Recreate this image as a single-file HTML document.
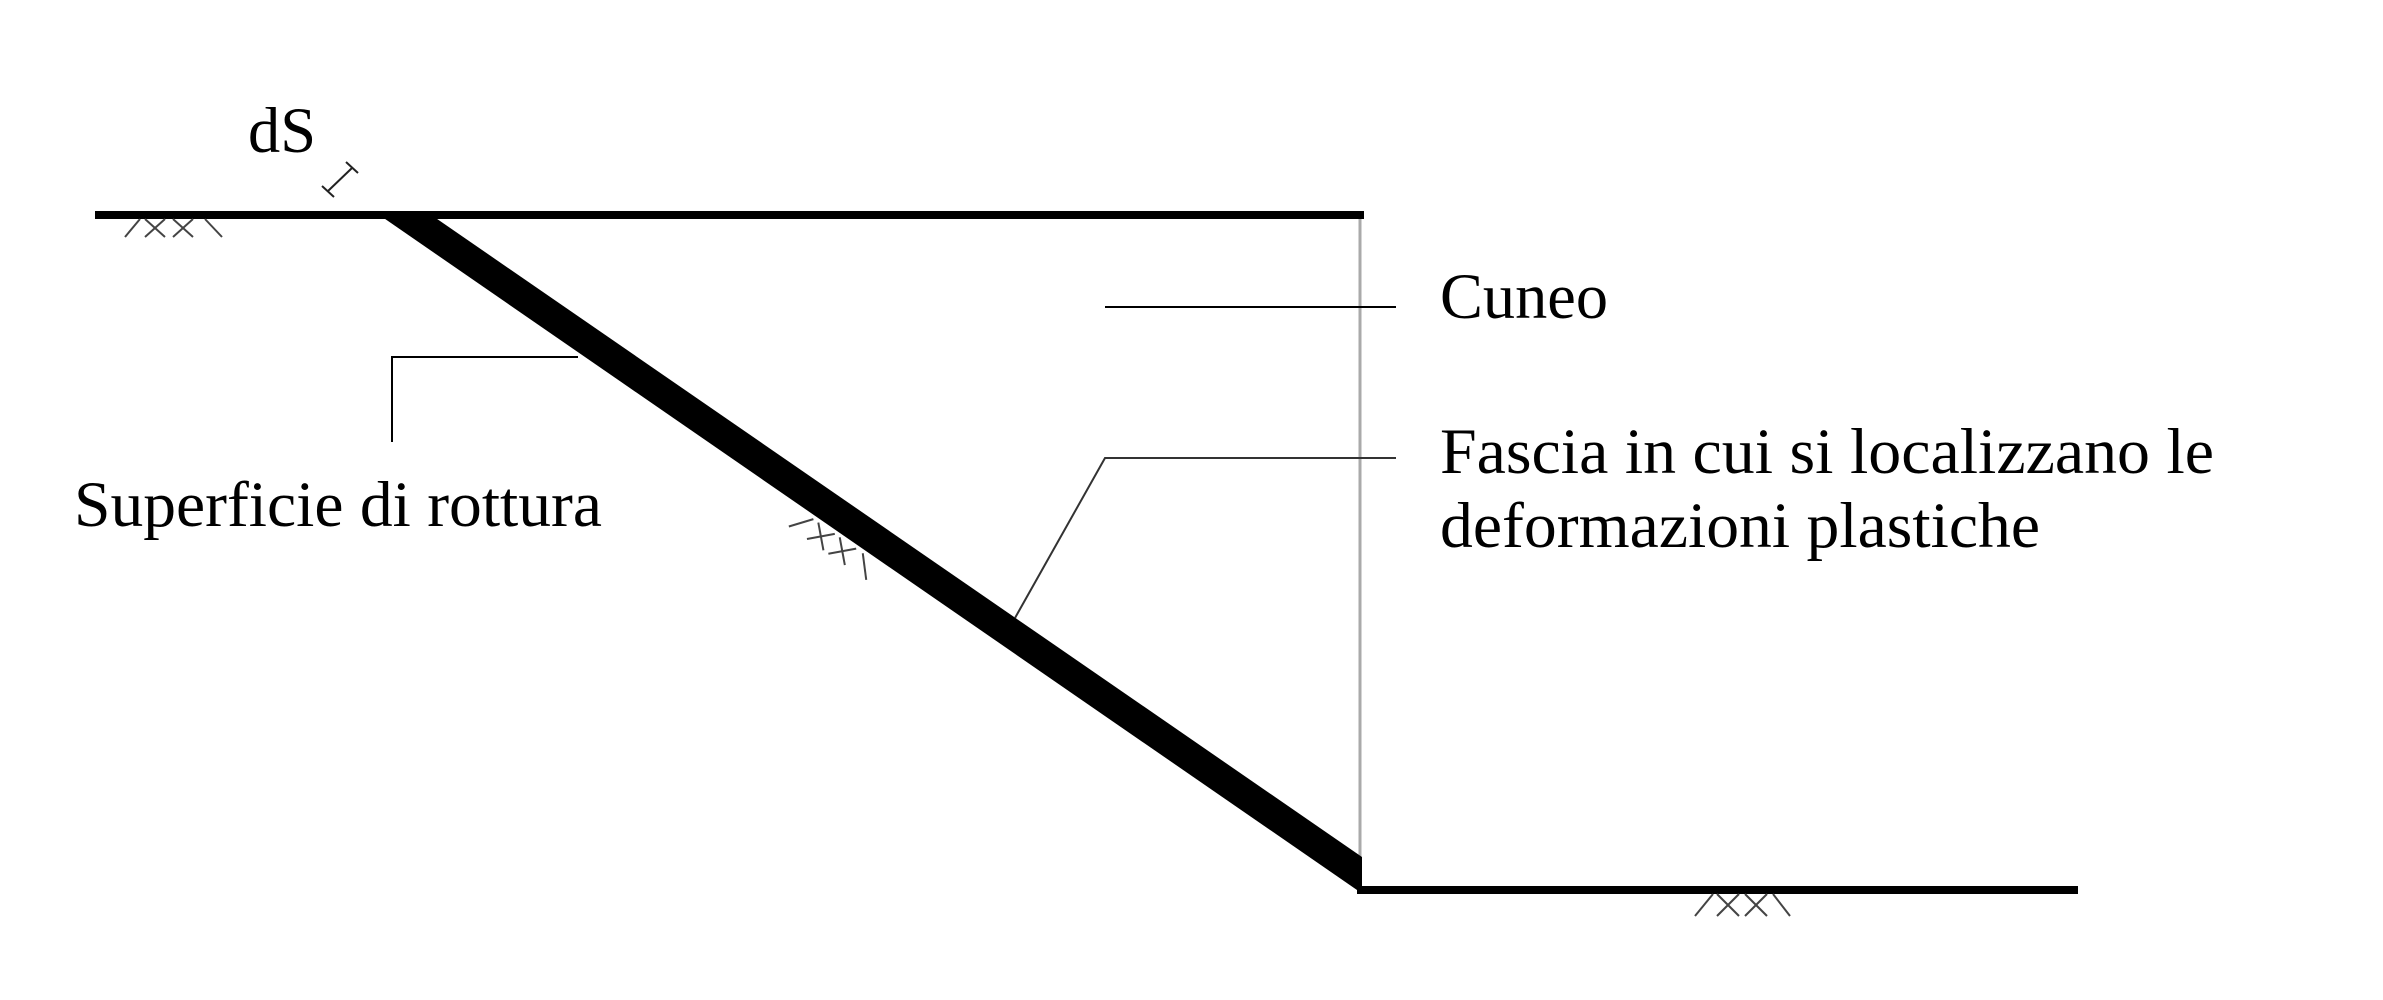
<!DOCTYPE html>
<html><head><meta charset="utf-8"><style>
html,body{margin:0;padding:0;background:#fff;}
svg{display:block;}
text{font-family:"Liberation Serif",serif;font-size:65px;fill:#000;}
</style></head><body>
<svg width="2383" height="1000" viewBox="0 0 2383 1000" xmlns="http://www.w3.org/2000/svg">
<rect width="2383" height="1000" fill="#fff"/>
<!-- vertical grey line -->
<line x1="1360" y1="215" x2="1360" y2="890" stroke="#aaa" stroke-width="3"/>
<!-- top ground -->
<line x1="95" y1="215" x2="1364" y2="215" stroke="#000" stroke-width="8"/>
<!-- bottom ground -->
<line x1="1357" y1="890" x2="2078" y2="890" stroke="#000" stroke-width="8"/>
<!-- band -->
<polygon points="375,212 427,212 1362,857 1362,890 1357,890" fill="#000"/>
<!-- hatches -->
<g stroke="#444" stroke-width="2" fill="none">
  <g transform="translate(125,219)">
    <line x1="0" y1="18" x2="15" y2="0"/>
    <line x1="20" y1="18" x2="40" y2="0"/><line x1="20" y1="0" x2="40" y2="18"/>
    <line x1="48" y1="18" x2="68" y2="0"/><line x1="48" y1="0" x2="68" y2="18"/>
    <line x1="80" y1="0" x2="97" y2="18"/>
  </g>
  <g transform="translate(1695,894)">
    <line x1="0" y1="22" x2="18" y2="0"/>
    <line x1="22" y1="22" x2="44" y2="0"/><line x1="22" y1="0" x2="44" y2="22"/>
    <line x1="50" y1="22" x2="72" y2="0"/><line x1="50" y1="0" x2="72" y2="22"/>
    <line x1="78" y1="0" x2="95" y2="22"/>
  </g>
  <g transform="translate(842,534) rotate(34.6)">
    <line x1="-48" y1="24" x2="-32" y2="4"/>
    <line x1="-26" y1="24" x2="-6" y2="4"/><line x1="-26" y1="4" x2="-6" y2="24"/>
    <line x1="0" y1="24" x2="20" y2="4"/><line x1="0" y1="4" x2="20" y2="24"/>
    <line x1="28" y1="4" x2="46" y2="24"/>
  </g>
</g>
<!-- dS marker -->
<g stroke="#222" stroke-width="2">
  <line x1="328" y1="191" x2="352" y2="168"/>
  <line x1="322" y1="186" x2="334" y2="197"/>
  <line x1="346" y1="162" x2="358" y2="173"/>
</g>
<!-- leaders -->
<g stroke="#000" stroke-width="2" fill="none">
  <polyline points="392,442 392,357 578,357"/>
  <line x1="1105" y1="307" x2="1396" y2="307"/>
  <polyline points="1015,618 1105,458 1396,458" stroke="#333"/>
</g>
<!-- labels -->
<text x="248" y="152" textLength="68" lengthAdjust="spacingAndGlyphs">dS</text>
<text x="1440" y="318" textLength="168" lengthAdjust="spacingAndGlyphs">Cuneo</text>
<text x="1440" y="473" textLength="774" lengthAdjust="spacingAndGlyphs">Fascia in cui si localizzano le</text>
<text x="1440" y="547" textLength="600" lengthAdjust="spacingAndGlyphs">deformazioni plastiche</text>
<text x="74" y="526" textLength="528" lengthAdjust="spacingAndGlyphs">Superficie di rottura</text>
</svg>
</body></html>
